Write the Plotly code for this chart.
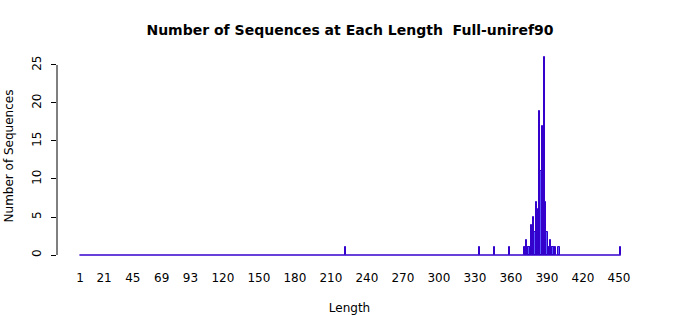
import plotly.graph_objects as go

lengths = [222, 334, 346, 359, 371, 372, 373, 374, 375, 376, 377, 378, 379, 380,
           381, 382, 383, 384, 385, 386, 387, 388, 389, 390, 391, 392, 393, 394,
           395, 396, 397, 400, 451]
counts = [1, 1, 1, 1, 1, 1, 2, 1, 1, 1, 4, 1, 5, 3,
          7, 6, 3, 19, 11, 17, 12, 26, 7, 3, 1, 1, 2, 1,
          1, 1, 1, 1, 1]
x_tick_vals = [1, 21, 45, 69, 93, 120, 150, 180, 210, 240, 270, 300, 330, 360, 390, 420, 450]
y_tick_vals = [0, 5, 10, 15, 20, 25]

FONT = "DejaVu Sans"
first, last = 1, max(lengths)

fig = go.Figure()
fig.add_trace(go.Bar(
    x=lengths, y=counts, width=1,
    marker=dict(color="#5a5aff", line=dict(color="#3300cc", width=1)),
    hoverinfo="x+y",
))

shapes = [
    dict(type="line", xref="x", yref="y", x0=first - 0.5, x1=last + 0.5, y0=0, y1=0,
         line=dict(color="#3300cc", width=1.5)),
    dict(type="line", xref="paper", yref="y", x0=0, x1=0, y0=y_tick_vals[0], y1=y_tick_vals[-1],
         line=dict(color="black", width=1)),
]

fig.update_layout(
    width=700, height=315,
    margin=dict(l=57, r=58, t=50, b=53, autoexpand=False),
    paper_bgcolor="white", plot_bgcolor="white",
    showlegend=False,
    bargap=0,
    shapes=shapes,
    font=dict(family=FONT, size=12, color="black"),
    title=dict(text="<b>Number of Sequences at Each Length  Full-uniref90</b>",
               x=0.5, xanchor="center", y=0.905, yanchor="middle", automargin=False,
               font=dict(family=FONT, size=14, color="black")),
    xaxis=dict(range=[-18.2, 469.2], showgrid=False, zeroline=False, showline=False,
               automargin=False,
               tickmode="array", tickvals=x_tick_vals, ticktext=[str(v) for v in x_tick_vals],
               ticks="", tickfont=dict(size=12), ticklabelstandoff=7,
               title=dict(text="Length", font=dict(size=12), standoff=20)),
    yaxis=dict(range=[-0.92, 26.97], showgrid=False, zeroline=False, showline=False,
               automargin=False,
               tickmode="array", tickvals=y_tick_vals, ticktext=[str(v) for v in y_tick_vals],
               ticks="outside", ticklen=5, tickcolor="black", tickangle=-90,
               tickfont=dict(size=12), ticklabelstandoff=5,
               title=dict(text="Number of Sequences", font=dict(size=12), standoff=14)),
)

fig.write_html("out.html")
